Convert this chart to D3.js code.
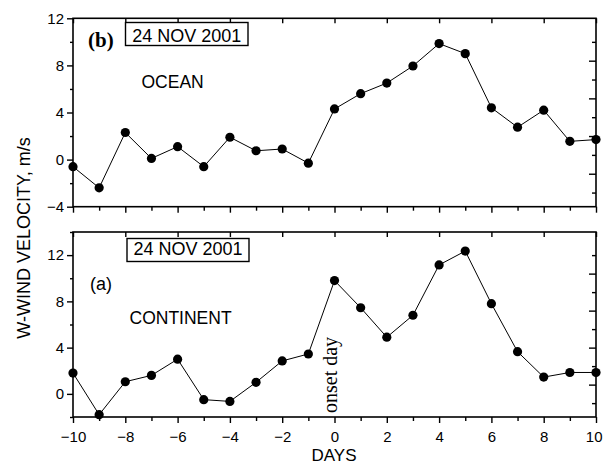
<!DOCTYPE html>
<html>
<head>
<meta charset="utf-8">
<script src="https://cdn.jsdelivr.net/npm/d3@7"></script>
<style>
  html, body { margin: 0; padding: 0; background: #fff; }
  svg { display: block; }
  .tick text { font-family: "Liberation Sans", Arial, sans-serif; font-size: 15px; fill: #000; }
</style>
</head>
<body>
<svg id="chart" width="603" height="464"></svg>
<script>
// ---- data ----
const days = [-10,-9,-8,-7,-6,-5,-4,-3,-2,-1,0,1,2,3,4,5,6,7,8,9,10];
const ocean = [-0.6,-2.4,2.3,0.1,1.1,-0.6,1.9,0.75,0.9,-0.3,4.3,5.6,6.5,7.95,9.85,9.0,4.4,2.75,4.2,1.55,1.7];
const continent = [1.8,-1.8,1.05,1.6,3.0,-0.5,-0.65,1.0,2.85,3.45,9.8,7.45,4.9,6.8,11.15,12.35,7.8,3.65,1.45,1.85,1.85];

const xMajorTicks = [-10,-8,-6,-4,-2,0,2,4,6,8,10];
const xMinorTicks = [-9,-7,-5,-3,-1,1,3,5,7,9];
const yTopMajor = [-4,0,4,8,12];
const yTopMinor = [-2,2,6,10];
const yBotMajor = [0,4,8,12];
const yBotMinor = [-2,2,6,10,14];
const rightTopMajor = [8.4,5.2,2.0,-1.2];
const rightTopMinor = [10,6.8,3.6,0.4,-2.8];
const rightBotMajor = [10.4,7.2,4.0,0.8];
const rightBotMinor = [12,8.8,5.6,2.4,-0.8];

const dateLabel = "24 NOV 2001";
const yTitle = "W-WIND VELOCITY, m/s";
const xTitle = "DAYS";

// ---- layout ----
const svg = d3.select("#chart");
const x = d3.scaleLinear().domain([-10, 10]).range([73, 596]);
const yTop = d3.scaleLinear().domain([-4, 12]).range([206.7, 18.3]);
const yBot = d3.scaleLinear().domain([-2, 14]).range([417, 232]);

function frame(y, opts) {
  const g = svg.append("g");
  const [y0, y1] = y.range(); // bottom, top
  const L = x.range()[0], R = x.range()[1];

  // bottom axis (outward ticks)
  const gb = g.append("g").attr("transform", `translate(0,${y0})`)
    .call(d3.axisBottom(x).tickValues(xMajorTicks).tickSize(6).tickPadding(8)
      .tickFormat(opts.xLabels ? d3.format("d") : ""));
  // keep the last label inside the page
  gb.selectAll(".tick text").filter(d => d === 10)
    .attr("text-anchor", "end").attr("x", 602 - x(10));
  g.append("g").attr("transform", `translate(0,${y0})`)
    .call(d3.axisBottom(x).tickValues(xMinorTicks).tickSize(4).tickFormat(""));
  // top axis (inward ticks)
  g.append("g").attr("transform", `translate(0,${y1})`)
    .call(d3.axisTop(x).tickValues(xMajorTicks).tickSize(-5).tickFormat(""));
  // left axis (outward)
  g.append("g").attr("transform", `translate(${L},0)`)
    .call(d3.axisLeft(y).tickValues(opts.yMajor).tickSize(6).tickPadding(3).tickFormat(d3.format("d")));
  g.append("g").attr("transform", `translate(${L},0)`)
    .call(d3.axisLeft(y).tickValues(opts.yMinor).tickSize(3).tickFormat(""));
  // right axis (inward)
  g.append("g").attr("transform", `translate(${R},0)`)
    .call(d3.axisRight(y).tickValues(opts.rMajor).tickSize(-7).tickFormat(""));
  g.append("g").attr("transform", `translate(${R},0)`)
    .call(d3.axisRight(y).tickValues(opts.rMinor).tickSize(-4).tickFormat(""));

  g.selectAll(".domain").remove();
  g.selectAll(".tick line").attr("stroke", "#000").attr("stroke-width", 1.4);
  g.append("rect").attr("x", L).attr("y", y1).attr("width", R - L).attr("height", y0 - y1)
    .attr("fill", "none").attr("stroke", "#000").attr("stroke-width", 1.6);
  return g;
}

function series(y, vals) {
  const pts = days.map((d, i) => [d, vals[i]]);
  const line = d3.line().x(d => x(d[0])).y(d => y(d[1]));
  svg.append("path").datum(pts).attr("d", line)
    .attr("fill", "none").attr("stroke", "#000").attr("stroke-width", 1);
  svg.append("g").selectAll("circle").data(pts).join("circle")
    .attr("cx", d => x(d[0])).attr("cy", d => y(d[1])).attr("r", 4.6).attr("fill", "#000");
}

frame(yTop, { xLabels: false, yMajor: yTopMajor, yMinor: yTopMinor, rMajor: rightTopMajor, rMinor: rightTopMinor });
frame(yBot, { xLabels: true, yMajor: yBotMajor, yMinor: yBotMinor, rMajor: rightBotMajor, rMinor: rightBotMinor });
series(yTop, ocean);
series(yBot, continent);

const sans = "'Liberation Sans', Arial, sans-serif";
const serif = "'Liberation Serif', 'Times New Roman', serif";

function dateBox(bx, by, bw, bh, ty) {
  svg.append("rect").attr("x", bx).attr("y", by).attr("width", bw).attr("height", bh)
    .attr("fill", "#fff").attr("stroke", "#000").attr("stroke-width", 1.4);
  svg.append("text").attr("x", bx + bw / 2).attr("y", ty).attr("text-anchor", "middle")
    .attr("font-family", sans).attr("font-size", 18).text(dateLabel);
}
dateBox(125.5, 22.5, 122.5, 23, 41.5);
dateBox(127, 238.5, 122, 23, 254.5);

svg.append("text").attr("x", 88).attr("y", 47).attr("font-family", serif).attr("font-weight", "bold")
  .attr("font-size", 21).text("(b)");
svg.append("text").attr("x", 141.5).attr("y", 87.5).attr("font-family", sans).attr("font-size", 17.5).text("OCEAN");
svg.append("text").attr("x", 90).attr("y", 290).attr("font-family", sans).attr("font-size", 18).text("(a)");
svg.append("text").attr("x", 129.5).attr("y", 323.5).attr("font-family", sans).attr("font-size", 17.5).text("CONTINENT");

svg.append("text").attr("transform", `translate(337,413) rotate(-90)`)
  .attr("font-family", serif).attr("font-size", 20).text("onset day");

svg.append("text").attr("transform", `translate(30,238) rotate(-90)`).attr("text-anchor", "middle")
  .attr("font-family", sans).attr("font-size", 18).text(yTitle);
svg.append("text").attr("x", 334).attr("y", 461).attr("text-anchor", "middle")
  .attr("font-family", sans).attr("font-size", 17).text(xTitle);
</script>
</body>
</html>
